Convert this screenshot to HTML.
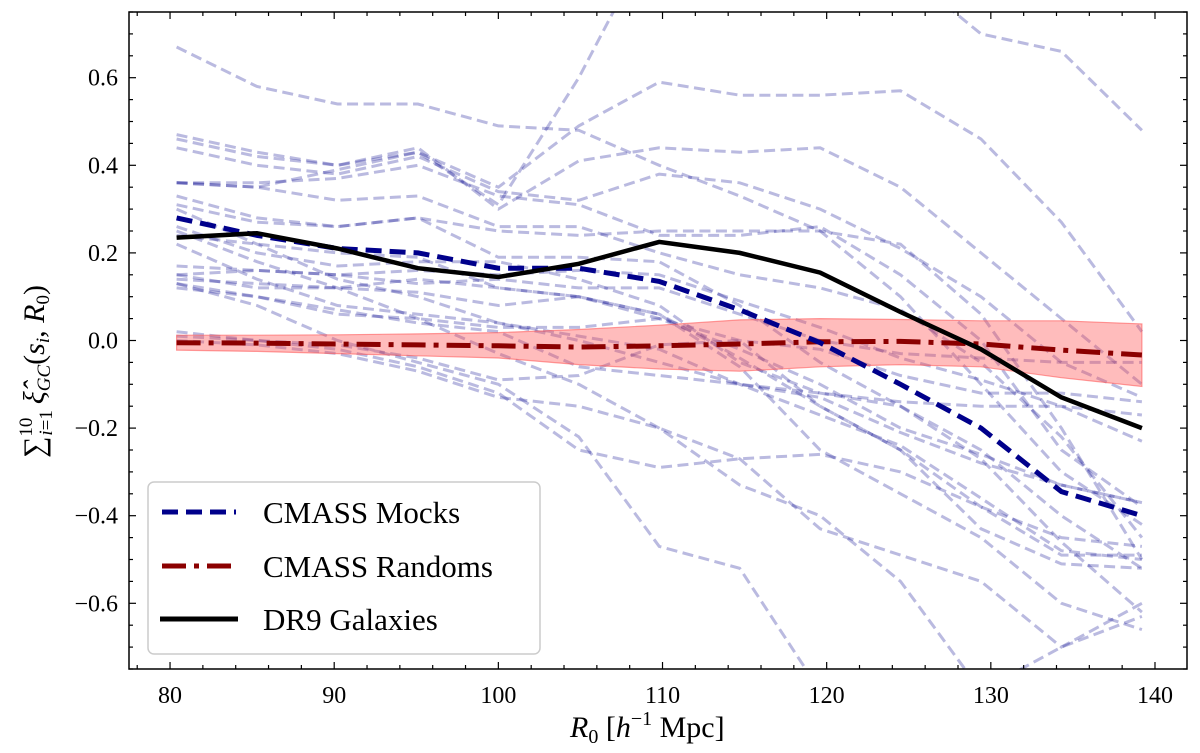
<!DOCTYPE html>
<html><head><meta charset="utf-8"><style>
html,body{margin:0;background:#fff;width:1200px;height:753px;overflow:hidden}
svg{position:absolute;left:0;top:0;font-family:"Liberation Serif","DejaVu Serif",serif}
</style></head><body>
<svg id="chart" width="1200" height="753" viewBox="0 0 1200 753">
<defs><clipPath id="clip"><rect x="129" y="12" width="1058" height="657"/></clipPath></defs>
<rect x="0" y="0" width="1200" height="753" fill="#fff"/>
<g id="plot" clip-path="url(#clip)"></g>
<g id="axes"></g>
</svg>
<script>
const xs = [80.4,85.3,90.2,95.1,100,104.9,109.8,114.7,119.6,124.5,129.4,134.3,139.2];
const dr9 = [0.235,0.245,0.21,0.165,0.145,0.175,0.225,0.2,0.155,0.065,-0.02,-0.13,-0.2];
const mocksMean = [0.28,0.24,0.21,0.2,0.165,0.165,0.135,0.07,-0.005,-0.1,-0.2,-0.345,-0.4];
const randoms = [-0.005,-0.006,-0.008,-0.01,-0.012,-0.015,-0.012,-0.008,-0.003,-0.002,-0.008,-0.022,-0.033];
const bandHi = [0.012,0.012,0.013,0.015,0.018,0.025,0.035,0.047,0.05,0.048,0.045,0.045,0.038];
const bandLo = [-0.022,-0.025,-0.03,-0.035,-0.04,-0.055,-0.065,-0.07,-0.06,-0.055,-0.06,-0.085,-0.105];
const mockLines = [
[0.67,0.58,0.54,0.54,0.49,0.48,0.40,0.33,0.25,0.1,-0.1,-0.3,-0.42],
[0.36,0.35,0.39,0.43,0.31,0.60,0.95,1.1,1.0,0.85,0.70,0.66,0.48],
[0.47,0.43,0.40,0.43,0.35,0.49,0.59,0.56,0.56,0.57,0.46,0.27,0.02],
[0.46,0.42,0.40,0.44,0.30,0.41,0.44,0.43,0.44,0.35,0.20,0.05,-0.10],
[0.44,0.40,0.38,0.42,0.34,0.32,0.38,0.36,0.30,0.21,0.10,-0.05,-0.13],
[0.36,0.36,0.37,0.40,0.33,0.31,0.24,0.24,0.26,0.15,0.0,-0.25,-0.38],
[0.36,0.35,0.32,0.33,0.26,0.26,0.20,0.15,0.12,0.07,-0.05,-0.22,-0.45],
[0.33,0.28,0.26,0.28,0.25,0.24,0.25,0.25,0.25,0.22,0.06,-0.2,-0.5],
[0.31,0.27,0.26,0.28,0.19,0.19,0.18,0.08,-0.05,-0.15,-0.27,-0.46,-0.62],
[0.30,0.22,0.14,0.10,0.04,0.0,-0.05,-0.10,-0.13,-0.21,-0.28,-0.33,-0.37],
[0.26,0.20,0.17,0.18,0.18,0.14,0.08,-0.05,-0.12,-0.15,-0.25,-0.40,-0.52],
[0.24,0.22,0.20,0.19,0.12,0.10,0.06,-0.06,-0.25,-0.35,-0.45,-0.60,-0.66],
[0.22,0.14,0.08,0.06,0.04,0.01,-0.02,-0.1,-0.17,-0.24,-0.36,-0.48,-0.50],
[0.17,0.16,0.15,0.13,0.14,0.12,0.12,0.06,0.0,-0.03,-0.04,-0.05,-0.05],
[0.15,0.16,0.15,0.16,0.15,0.16,0.15,0.09,0.03,-0.04,-0.09,-0.15,-0.23],
[0.15,0.12,0.12,0.14,0.12,0.10,0.05,-0.02,-0.10,-0.20,-0.26,-0.33,-0.37],
[0.14,0.13,0.12,0.11,0.08,0.10,0.06,-0.04,-0.15,-0.25,-0.43,-0.51,-0.52],
[0.13,0.10,0.06,0.05,0.03,0.03,0.05,0.0,-0.02,-0.08,-0.12,-0.12,-0.14],
[0.12,0.10,0.07,0.04,0.02,-0.06,-0.08,-0.10,-0.12,-0.14,-0.15,-0.15,-0.17],
[0.01,0.0,-0.01,-0.04,-0.09,-0.08,-0.01,0.0,-0.15,-0.25,-0.38,-0.49,-0.49],
[0.0,-0.01,-0.03,-0.07,-0.13,-0.15,-0.2,-0.27,-0.43,-0.49,-0.55,-0.70,-0.60],
[0.13,0.08,0.0,-0.05,-0.10,-0.22,-0.47,-0.52,-0.8,-1.0,-1.1,-1.1,-1.1],
[0.02,0.0,-0.02,-0.06,-0.12,-0.25,-0.29,-0.27,-0.26,-0.3,-0.38,-0.45,-0.47],
[0.25,0.18,0.12,0.05,-0.03,-0.10,-0.20,-0.33,-0.40,-0.55,-0.80,-0.70,-0.63]
];
const xTicks = [80,90,100,110,120,130,140];
const yTicks = [-0.6,-0.4,-0.2,0.0,0.2,0.4,0.6];
const yTickLabels = ["\u22120.6","\u22120.4","\u22120.2","0.0","0.2","0.4","0.6"];

const L=129,R=1187,T=12,B=669, X0=77.5,X1=141.95, Y0=-0.75,Y1=0.75;
const sx=v=>L+(v-X0)/(X1-X0)*(R-L);
const sy=v=>B-(v-Y0)/(Y1-Y0)*(B-T);
const NS="http://www.w3.org/2000/svg";
function mk(tag,attrs,parent){const e=document.createElementNS(NS,tag);for(const k in attrs)e.setAttribute(k,attrs[k]);parent.appendChild(e);return e;}
const plot=document.getElementById('plot'), axes=document.getElementById('axes');
const pts=arr=>arr.map((v,i)=>sx(xs[i]).toFixed(1)+','+sy(v).toFixed(1)).join(' ');

mockLines.forEach((arr,i)=>{
  const p=mk('polyline',{points:pts(arr),fill:'none',stroke:'rgba(0,0,139,0.27)','stroke-width':3,'stroke-dasharray':'11,5.5'},plot);
  
  
});
let bp=xs.map((x,i)=>sx(x).toFixed(1)+','+sy(bandHi[i]).toFixed(1));
for(let i=xs.length-1;i>=0;i--)bp.push(sx(xs[i]).toFixed(1)+','+sy(bandLo[i]).toFixed(1));
const band=mk('polygon',{points:bp.join(' '),fill:'rgba(255,80,80,0.38)',stroke:'rgba(255,80,80,0.55)','stroke-width':1.2},plot);


const rl=mk('polyline',{points:pts(randoms),fill:'none',stroke:'#8b0000','stroke-width':5,'stroke-dasharray':'24,8,5,8'},plot);


const ml=mk('polyline',{points:pts(mocksMean),fill:'none',stroke:'#00008b','stroke-width':5,'stroke-dasharray':'16,8'},plot);


const gl=mk('polyline',{points:pts(dr9),fill:'none',stroke:'#000','stroke-width':4.5},plot);



mk('rect',{x:L,y:T,width:R-L,height:B-T,fill:'none',stroke:'#000','stroke-width':1.5},axes);
for(let v=78;v<=141;v+=2){const x=sx(v);const maj=v%10===0;const len=maj?7:4;
  mk('line',{x1:x,y1:B,x2:x,y2:B-len,stroke:'#000','stroke-width':1.2},axes);
  mk('line',{x1:x,y1:T,x2:x,y2:T+len,stroke:'#000','stroke-width':1.2},axes);}
for(let k=-15;k<=15;k++){const v=k*0.05;const y=sy(v);const maj=k%4===0;const len=maj?7:4;
  mk('line',{x1:L,y1:y,x2:L+len,y2:y,stroke:'#000','stroke-width':1.2},axes);
  mk('line',{x1:R,y1:y,x2:R-len,y2:y,stroke:'#000','stroke-width':1.2},axes);}
xTicks.forEach(v=>{const t=mk('text',{x:sx(v),y:B+34,'text-anchor':'middle','font-size':24},axes);t.textContent=v;
  
  });
yTicks.forEach((v,i)=>{const t=mk('text',{x:L-11,y:sy(v)+8,'text-anchor':'end','font-size':24},axes);t.textContent=yTickLabels[i];
  
  });
</script>
<svg width="1200" height="753" style="font-size:30px">
<g>
<text x="570" y="737"><tspan font-style="italic">R</tspan><tspan font-size="20" dy="6">0</tspan><tspan dy="-6"> [</tspan><tspan font-style="italic">h</tspan><tspan font-size="20" dy="-12">−1</tspan><tspan dy="12"> Mpc]</tspan></text>
</g>
<g transform="translate(44,340) rotate(-90)">
<text x="-118" y="0">∑<tspan font-size="19" dy="-12">10</tspan><tspan font-size="19" dx="-18" dy="20"><tspan font-style="italic">i</tspan>=1</tspan><tspan dy="-8" dx="6" font-style="italic">ξ̂</tspan><tspan font-size="19" font-style="italic" dy="6">GC</tspan><tspan dy="-6">(</tspan><tspan font-style="italic">s</tspan><tspan font-size="19" font-style="italic" dy="5">i</tspan><tspan dy="-5">, </tspan><tspan font-style="italic">R</tspan><tspan font-size="19" dy="5">0</tspan><tspan dy="-5">)</tspan></text>
</g>
<g font-size="31">
<rect x="148" y="482" width="392" height="172" rx="6" fill="rgba(255,255,255,0.85)" stroke="#ccc" stroke-width="1.5"/>
<g><line x1="162" y1="512" x2="236" y2="512" stroke="#00008b" stroke-width="5" stroke-dasharray="16,8"/><text x="263" y="523">CMASS Mocks</text></g>
<g><line x1="162" y1="566" x2="236" y2="566" stroke="#8b0000" stroke-width="5" stroke-dasharray="24,8,5,8"/><text x="263" y="577">CMASS Randoms</text></g>
<g><line x1="160" y1="619" x2="238" y2="619" stroke="#000" stroke-width="5"/><text x="263" y="630">DR9 Galaxies</text></g>
</g>
</svg>
</body></html>
